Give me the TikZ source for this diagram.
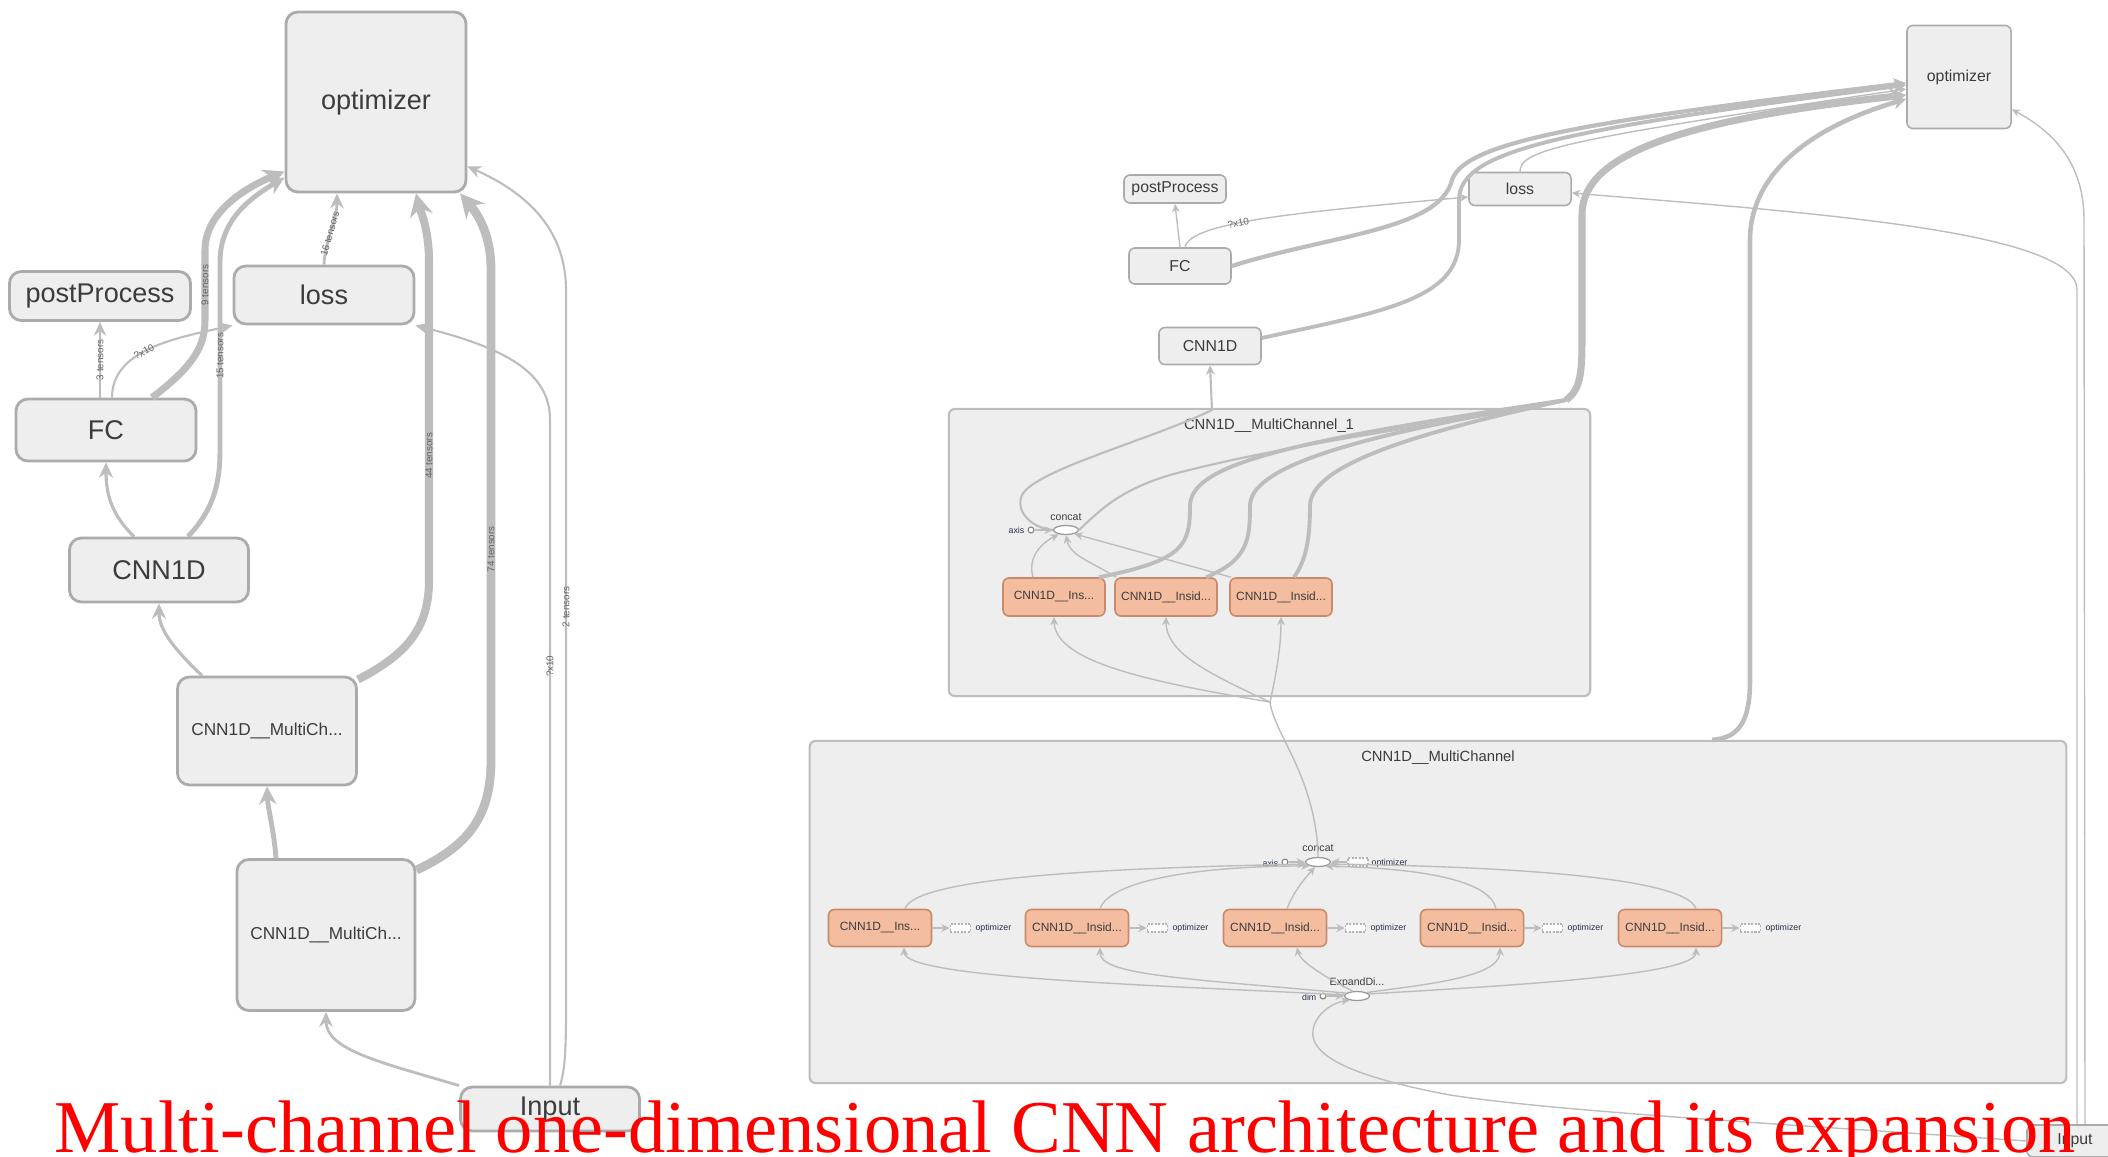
\documentclass[tikz,border=0pt]{standalone}
\usepackage{fontspec}
\setmainfont{Liberation Sans}
\newfontfamily\capfont{Liberation Serif}
\usetikzlibrary{arrows.meta,calc,shapes.geometric,positioning}
\definecolor{boxfill}{HTML}{EEEEEE}
\definecolor{boxline}{HTML}{ABABAB}
\definecolor{edgegray}{HTML}{BDBDBD}
\definecolor{opfill}{HTML}{F4BDA0}
\definecolor{opline}{HTML}{C98A6C}
\definecolor{grpline}{HTML}{BDBDBD}
\definecolor{txt}{HTML}{3C3C3C}
\definecolor{navy}{HTML}{23304A}
\tikzset{
  lbox/.style={draw=boxline,fill=boxfill,line width=0.8pt,rounded corners=0.12cm,inner sep=0pt,text=txt,font=\fontsize{7.7}{9}\selectfont},
  sbox/.style={draw=boxline,fill=boxfill,line width=0.45pt,rounded corners=0.06cm,inner sep=0pt,text=txt,font=\fontsize{4.5}{5}\selectfont},
  ibox/.style={draw=opline,fill=opfill,line width=0.45pt,rounded corners=0.06cm,inner sep=0pt,text=txt,font=\fontsize{3.4}{4}\selectfont},
  grp/.style={draw=grpline,fill=boxfill,line width=0.6pt,rounded corners=0.06cm,inner sep=0pt},
  eL/.style={draw=edgegray,line width=0.6pt,-{Stealth[length=3pt 1.5,width=2.4pt 1.8]}},
  eR/.style={draw=edgegray,line width=0.4pt,-{Stealth[length=1.8pt 1.5,width=1.5pt 1.8]}},
  lab/.style={font=\fontsize{2.8}{3}\selectfont,text=txt!80,inner sep=0.3pt,sloped},
  smalltxt/.style={font=\fontsize{2.5}{3}\selectfont,text=navy,inner sep=0pt},
  ctext/.style={font=\fontsize{3}{3.5}\selectfont,text=txt,inner sep=0pt},
  port/.style={circle,draw=gray,fill=white,line width=0.3pt,minimum size=0.06cm,inner sep=0pt},
  opnode/.style={ellipse,draw=gray!80,fill=white,line width=0.35pt,minimum width=0.25cm,minimum height=0.09cm,inner sep=0pt},
  dbox/.style={draw=gray!60,dash pattern=on 0.6pt off 0.4pt,fill=white!97!gray,line width=0.3pt,minimum width=0.2cm,minimum height=0.08cm,inner sep=0pt},
}
\begin{document}
\begin{tikzpicture}[x=0.01cm,y=-0.01cm,line join=round]
\useasboundingbox (0,0) rectangle (2108,1157);

% collapsed graph
\node[lbox,minimum width=1.80cm,minimum height=1.80cm] (optL) at (376,102) {optimizer};
\node[lbox,minimum width=1.81cm,minimum height=0.49cm] (postL) at (100,296) {postProcess};
\node[lbox,minimum width=1.80cm,minimum height=0.58cm] (lossL) at (324,295) {loss};
\node[lbox,minimum width=1.80cm,minimum height=0.62cm] (fcL) at (106,430) {FC};
\node[lbox,minimum width=1.79cm,minimum height=0.64cm] (cnnL) at (159,570) {CNN1D};
\node[lbox,minimum width=1.79cm,minimum height=1.08cm,font=\fontsize{4.9}{6}\selectfont] (mc1L) at (267,731) {CNN1D\_\_MultiCh...};
\node[lbox,minimum width=1.78cm,minimum height=1.51cm,font=\fontsize{4.9}{6}\selectfont] (mc0L) at (326,935) {CNN1D\_\_MultiCh...};
\node[lbox,minimum width=1.79cm,minimum height=0.44cm] (inL) at (550,1109) {Input};

\draw[eL] (postL.south |- fcL.north) -- node[lab]{3 tensors} (postL.south);
\draw[eL] ([xshift=0.06cm]fcL.north) .. controls (112,350) and (175,338) .. node[lab,pos=0.45]{?x10} (lossL.south west);
\draw[eL,line width=2pt] ([xshift=0.46cm]fcL.north) .. controls (195,365) and (205,345) .. (205,320) -- node[lab]{9 tensors} (205,250) .. controls (205,215) and (240,190) .. ([yshift=0.22cm]optL.south west);
\draw[eL,line width=0.9pt] ([xshift=-0.25cm]cnnL.north) .. controls (112,515) and (106,495) .. (fcL.south);
\draw[eL,line width=1.4pt] ([xshift=0.29cm]cnnL.north) .. controls (213,510) and (220,485) .. (220,450) -- node[lab]{15 tensors} (220,262) .. controls (220,220) and (250,198) .. ([yshift=0.16cm]optL.south west);
\draw[eL,line width=0.8pt] (lossL.north) .. controls (325,240) and (337,222) .. node[lab,pos=0.45]{16 tensors} ([xshift=-0.39cm]optL.south);
\draw[eL,line width=0.9pt] ([xshift=-0.65cm]mc1L.north) .. controls (175,650) and (159,630) .. (cnnL.south);
\draw[eL,line width=2.3pt] ([yshift=-0.04cm]mc1L.north east) .. controls (405,655) and (429,630) .. (429,580) -- node[lab,pos=0.39]{44 tensors} (429,262) .. controls (429,228) and (420,210) .. ([xshift=0.4cm]optL.south);
\draw[eL,line width=1.4pt] ([xshift=-0.5cm]mc0L.north) .. controls (274,830) and (268,810) .. (mc1L.south);
\draw[eL,line width=2.5pt] ([yshift=-0.12cm]mc0L.north east) .. controls (470,845) and (491,815) .. (491,760) -- node[lab,pos=0.43]{74 tensors} (491,270) .. controls (491,232) and (476,212) .. ([xshift=0.84cm]optL.south);
\draw[eL,line width=0.8pt] (inL.north west) .. controls (380,1062) and (326,1050) .. (mc0L.south);
\draw[eL] (inL.north) -- node[lab,pos=0.63]{?x10} (550,420) .. controls (550,372) and (505,348) .. (lossL.south east);
\draw[eL] ([xshift=0.1cm]inL.north) .. controls (565,1070) and (566,1050) .. (566,1010) -- node[lab,pos=0.56]{2 tensors} (566,290) .. controls (566,228) and (525,192) .. ([yshift=0.27cm]optL.south east);

% expanded graph
\node[grp,minimum width=6.41cm,minimum height=2.87cm] (grp1) at (1269.5,552.5) {};
\node[grp,minimum width=12.56cm,minimum height=3.42cm] (grp2) at (1438,912) {};
\node[text=txt,font=\fontsize{4.2}{5}\selectfont] (g1t) at (1269,426) {CNN1D\_\_MultiChannel\_1};
\node[text=txt,font=\fontsize{4.2}{5}\selectfont] (g2t) at (1438,758) {CNN1D\_\_MultiChannel};

\node[sbox,minimum width=1.04cm,minimum height=1.03cm] (optR) at (1959,77) {optimizer};
\node[sbox,minimum width=1.02cm,minimum height=0.28cm] (postR) at (1175,189) {postProcess};
\node[sbox,minimum width=1.02cm,minimum height=0.33cm] (lossR) at (1520,189) {loss};
\node[sbox,minimum width=1.02cm,minimum height=0.36cm] (fcR) at (1180,266) {FC};
\node[sbox,minimum width=1.02cm,minimum height=0.37cm] (cnnR) at (1210,346) {CNN1D};
\node[sbox,minimum width=0.96cm,minimum height=0.32cm] (inR) at (2075,1141) {Input};

\foreach \i/\x/\s in {1/1054/Ins,2/1166/Insid,3/1281/Insid}
  \node[ibox,minimum width=1.02cm,minimum height=0.38cm] (a\i) at (\x,597) {CNN1D\_\_\s...};
\node[opnode] (c1) at (1066,530) {};
\node[ctext] (c1t) at (1066,517) {concat};
\node[port] (ax1) at (1031,530) {};
\node[smalltxt,anchor=east] (ax1t) at (1025,530) {axis};

\foreach \i/\x/\s in {1/880/Ins,2/1077/Insid,3/1275/Insid,4/1472/Insid,5/1670/Insid}{
  \node[ibox,minimum width=1.03cm,minimum height=0.37cm] (b\i) at (\x,928) {CNN1D\_\_\s...};
  \node[dbox] (o\i) at ($(b\i.east)+(28,0)$) {};
  \node[smalltxt,anchor=west] (ot\i) at ($(o\i.east)+(4,0)$) {optimizer};
  \draw[eR] (b\i) -- (o\i);
}
\node[opnode] (c2) at (1318,862) {};
\node[ctext] (c2t) at (1318,848) {concat};
\node[port] (ax2) at (1285,862) {};
\node[smalltxt,anchor=east] (ax2t) at (1279,863) {axis};
\node[dbox] (oc) at (1358,862) {};
\node[smalltxt,anchor=west] (oct) at (1371,863) {optimizer};
\node[opnode] (ex) at (1357,996) {};
\node[ctext] (ext) at (1357,983) {ExpandDi...};
\node[port] (dim) at (1323,996) {};
\node[smalltxt,anchor=east] (dimt) at (1317,997) {dim};

% inside CNN1D__MultiChannel
\draw[eR] (ax2) -- (c2);
\draw[eR] (oc) -- (c2);
\draw[eR] (dim) -- (ex);
\draw[eR] ([xshift=0.25cm]b1.north) .. controls (915,878) and (1100,868) .. (c2.-170);
\draw[eR] ([xshift=0.23cm]b2.north) .. controls (1110,880) and (1200,866) .. (c2.-155);
\draw[eR] ([xshift=0.12cm]b3.north) .. controls (1292,895) and (1303,880) .. (c2.-120);
\draw[eR] ([xshift=0.24cm]b4.north) .. controls (1490,880) and (1420,868) .. (c2.-30);
\draw[eR] ([xshift=0.26cm]b5.north) .. controls (1685,875) and (1480,866) .. (c2.-10);
\draw[eR] (ex.175) .. controls (1150,985) and (905,978) .. ([xshift=0.24cm]b1.south);
\draw[eR] (ex.165) .. controls (1180,978) and (1100,975) .. ([xshift=0.23cm]b2.south);
\draw[eR] (ex.130) .. controls (1330,980) and (1300,962) .. ([xshift=0.22cm]b3.south);
\draw[eR] (ex.20) .. controls (1420,985) and (1500,978) .. ([xshift=0.28cm]b4.south);
\draw[eR] (ex.10) .. controls (1520,985) and (1696,975) .. ([xshift=0.26cm]b5.south);
\draw[eR] (inR.west) .. controls (1800,1125) and (1560,1112) .. (1450,1095) .. controls (1370,1080) and (1308,1060) .. (1313,1030) .. controls (1316,1012) and (1335,1002) .. (ex.-150);

% inside CNN1D__MultiChannel_1
\coordinate (sp1) at (1270,702);
\draw[eR,-] (c2.north) .. controls (1318,825) and (1308,790) .. (1295,762) .. controls (1284,738) and (1272,718) .. (sp1);
\draw[eR] (sp1) .. controls (1150,682) and (1055,662) .. (a1.south);
\draw[eR] (sp1) .. controls (1205,672) and (1166,652) .. (a2.south);
\draw[eR] (sp1) .. controls (1276,675) and (1281,648) .. (a3.south);
\draw[eR] (ax1) -- (c1);
\draw[eR] ([xshift=-0.21cm]a1.north) .. controls (1028,560) and (1038,545) .. (c1.-150);
\draw[eR] ([xshift=-0.5cm]a2.north) .. controls (1092,562) and (1070,556) .. (c1.-90);
\draw[eR] ([xshift=-0.5cm]a3.north) -- (c1.-25);
\draw[eR,line width=0.6pt] (c1.west) .. controls (1030,528) and (1015,510) .. (1022,495) .. controls (1035,470) and (1150,440) .. (1212,410) -- (cnnR.south);
\coordinate (j1) at (1566,400);
\draw[eR,-,line width=0.6pt] (c1.east) .. controls (1100,510) and (1120,490) .. (1170,475) .. controls (1300,440) and (1480,420) .. (j1);
\draw[eR,-,line width=1.1pt] ([xshift=0.45cm]a1.north) .. controls (1185,560) and (1190,545) .. (1190,505) .. controls (1192,462) and (1300,440) .. (j1);
\draw[eR,-,line width=1.1pt] ([xshift=0.4cm]a2.north) .. controls (1248,560) and (1250,540) .. (1250,505) .. controls (1252,462) and (1380,432) .. (j1);
\draw[eR,-,line width=1.1pt] ([xshift=0.13cm]a3.north) .. controls (1306,560) and (1310,540) .. (1310,505) .. controls (1312,462) and (1430,430) .. (j1);
\draw[eR,line width=2pt] (j1) .. controls (1580,390) and (1582,375) .. (1582,340) -- (1582,215) .. controls (1582,160) and (1660,122) .. ([yshift=-0.18cm]optR.west);

% top level of the expanded graph
\draw[eR] (fcR.north) -- (postR.south);
\draw[eR] ([xshift=0.05cm]fcR.north) .. controls (1190,222) and (1300,212) .. node[lab,pos=0.4]{?x10} ([yshift=-0.08cm]lossR.west);
\draw[eR,line width=1.2pt] (fcR.east) .. controls (1330,235) and (1440,230) .. (1452,180) .. controls (1465,140) and (1600,120) .. ([yshift=-0.06cm]optR.west);
\draw[eR,line width=1.1pt] ([yshift=0.08cm]cnnR.east) .. controls (1380,312) and (1459,300) .. (1459,240) -- (1459,200) .. controls (1459,150) and (1560,130) .. ([yshift=-0.08cm]optR.west);
\draw[eR] (lossR.north) .. controls (1520,150) and (1560,140) .. ([yshift=-0.12cm]optR.west);
\draw[eR,line width=1.3pt] ([xshift=2.74cm]grp2.north) .. controls (1740,738) and (1750,720) .. (1750,680) -- (1750,240) .. controls (1750,180) and (1800,130) .. ([yshift=-0.22cm]optR.west);
\draw[eR] ([xshift=0.02cm]inR.north) -- (2077,290) .. controls (2077,230) and (1800,212) .. ([yshift=-0.04cm]lossR.east);
\draw[eR] ([xshift=0.1cm]inR.north) -- (2084,220) .. controls (2084,160) and (2050,130) .. ([yshift=0.2cm]optR.south east);

\node[anchor=base west,inner sep=0pt,text=red,font=\capfont\fontsize{21.2}{25}\selectfont] (caption) at (54,1152) {Multi-channel one-dimensional CNN architecture and its expansion};
\end{tikzpicture}
\end{document}
